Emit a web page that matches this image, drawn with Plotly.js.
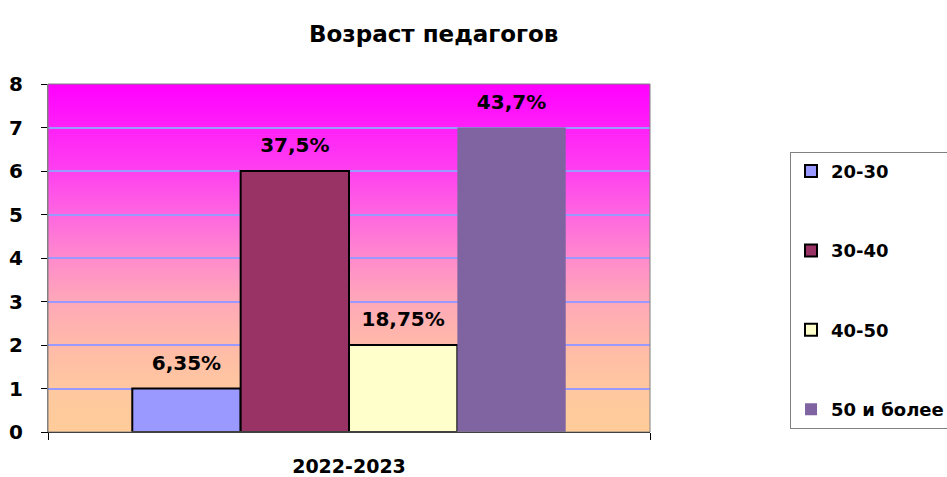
<!DOCTYPE html>
<html>
<head>
<meta charset="utf-8">
<script src="https://cdn.plot.ly/plotly-3.0.1.min.js"></script>
<style>html,body{margin:0;padding:0;background:#fff;}#chart{width:947px;height:477px;}</style>
</head>
<body>
<div id="chart"></div>
<script>
const categories = ['2022-2023'];
const seriesNames = ['20-30', '30-40', '40-50', '50 и более'];
const seriesValues = [1, 6, 2, 7];
const seriesLabels = ['6,35%', '37,5%', '18,75%', '43,7%'];
const seriesColors = ['#9999FF', '#993366', '#FFFFCC', '#8064A2'];
const seriesOutline = [2, 2, 2, 0];
const yTicks = [0, 1, 2, 3, 4, 5, 6, 7, 8];

const FONT = '"DejaVu Sans", sans-serif';
const LABEL_LIFT = 0.25; // visual gap between bar top and its label, in axis units

const barTraces = seriesNames.map((name, i) => ({
  type: 'bar',
  name: name,
  x: categories,
  y: [seriesValues[i]],
  offsetgroup: 'g' + i,
  legendgroup: 'g' + i,
  marker: {color: seriesColors[i], line: {color: '#000', width: seriesOutline[i]}},
  hoverinfo: 'none'
}));

// transparent carriers for the value labels, sharing each bar's slot
const labelTraces = seriesNames.map((name, i) => ({
  type: 'bar',
  name: name + ' label',
  x: categories,
  y: [seriesValues[i]],
  base: LABEL_LIFT,
  offsetgroup: 'g' + i,
  showlegend: false,
  text: [seriesLabels[i]],
  textposition: 'outside',
  cliponaxis: false,
  textfont: {family: FONT, size: 20, color: '#000', weight: 'bold'},
  marker: {color: 'rgba(0,0,0,0)', line: {width: 0}},
  hoverinfo: 'none'
}));

const grad = '<svg xmlns="http://www.w3.org/2000/svg" width="100" height="100" preserveAspectRatio="none" viewBox="0 0 100 100">' +
  '<defs><linearGradient id="g" x1="0" y1="0" x2="0" y2="1">' +
  '<stop offset="0" stop-color="#FF00FF"/>' +
  '<stop offset="0.25" stop-color="#FF40F0"/>' +
  '<stop offset="0.375" stop-color="#FF66E0"/>' +
  '<stop offset="0.5" stop-color="#FF8ACC"/>' +
  '<stop offset="0.625" stop-color="#FFA8B8"/>' +
  '<stop offset="0.75" stop-color="#FFBAA8"/>' +
  '<stop offset="0.875" stop-color="#FFC8A0"/>' +
  '<stop offset="1" stop-color="#FFCC99"/>' +
  '</linearGradient></defs><rect width="100" height="100" fill="url(#g)"/></svg>';

const layout = {
  width: 947, height: 477,
  paper_bgcolor: '#fff',
  plot_bgcolor: 'rgba(0,0,0,0)',
  margin: {l: 48, r: 297, t: 84, b: 45, autoexpand: false},
  font: {family: FONT, color: '#000'},
  title: {text: 'Возраст педагогов', font: {family: FONT, size: 23, color: '#000', weight: 'bold'},
          x: 0.458, xref: 'container', xanchor: 'center', y: 0.929, yref: 'container', yanchor: 'middle'},
  barmode: 'group',
  bargap: 0.28,
  bargroupgap: 0,
  showlegend: true,
  legend: {
    x: 1.2326, xanchor: 'left', y: 0.805, yanchor: 'top',
    bordercolor: '#808080', borderwidth: 1, bgcolor: '#fff',
    font: {family: FONT, size: 18, color: '#000', weight: 'bold'},
    traceorder: 'grouped', tracegroupgap: 53,
    itemwidth: 30
  },
  xaxis: {
    type: 'category',
    tickfont: {family: FONT, size: 19, color: '#000', weight: 'bold'},
    showline: true, linecolor: '#000', linewidth: 1,
    ticks: 'outside', tickson: 'boundaries', ticklen: 7, tickcolor: '#000',
    ticklabelstandoff: 17,
    showgrid: false, zeroline: false
  },
  yaxis: {
    range: [0, 8], tickvals: yTicks, ticktext: yTicks.map(String),
    tickfont: {family: FONT, size: 20, color: '#000', weight: 'bold'},
    showline: true, linecolor: '#808080', linewidth: 1,
    ticks: 'outside', ticklen: 6, tickcolor: '#000',
    ticklabelstandoff: 14,
    showgrid: true, gridcolor: '#9999FF', gridwidth: 2,
    zeroline: false
  },
  images: [{
    source: 'data:image/svg+xml;charset=utf-8,' + encodeURIComponent(grad),
    xref: 'paper', yref: 'paper', x: 0, y: 1, sizex: 1, sizey: 1,
    sizing: 'stretch', layer: 'below', xanchor: 'left', yanchor: 'top'
  }],
  shapes: [{
    type: 'rect', xref: 'paper', yref: 'paper', x0: 0, x1: 1, y0: 0, y1: 1,
    line: {color: '#808080', width: 1}, layer: 'above'
  }]
};

Plotly.newPlot('chart', barTraces.concat(labelTraces), layout, {displayModeBar: false, staticPlot: true});
</script>
</body>
</html>
